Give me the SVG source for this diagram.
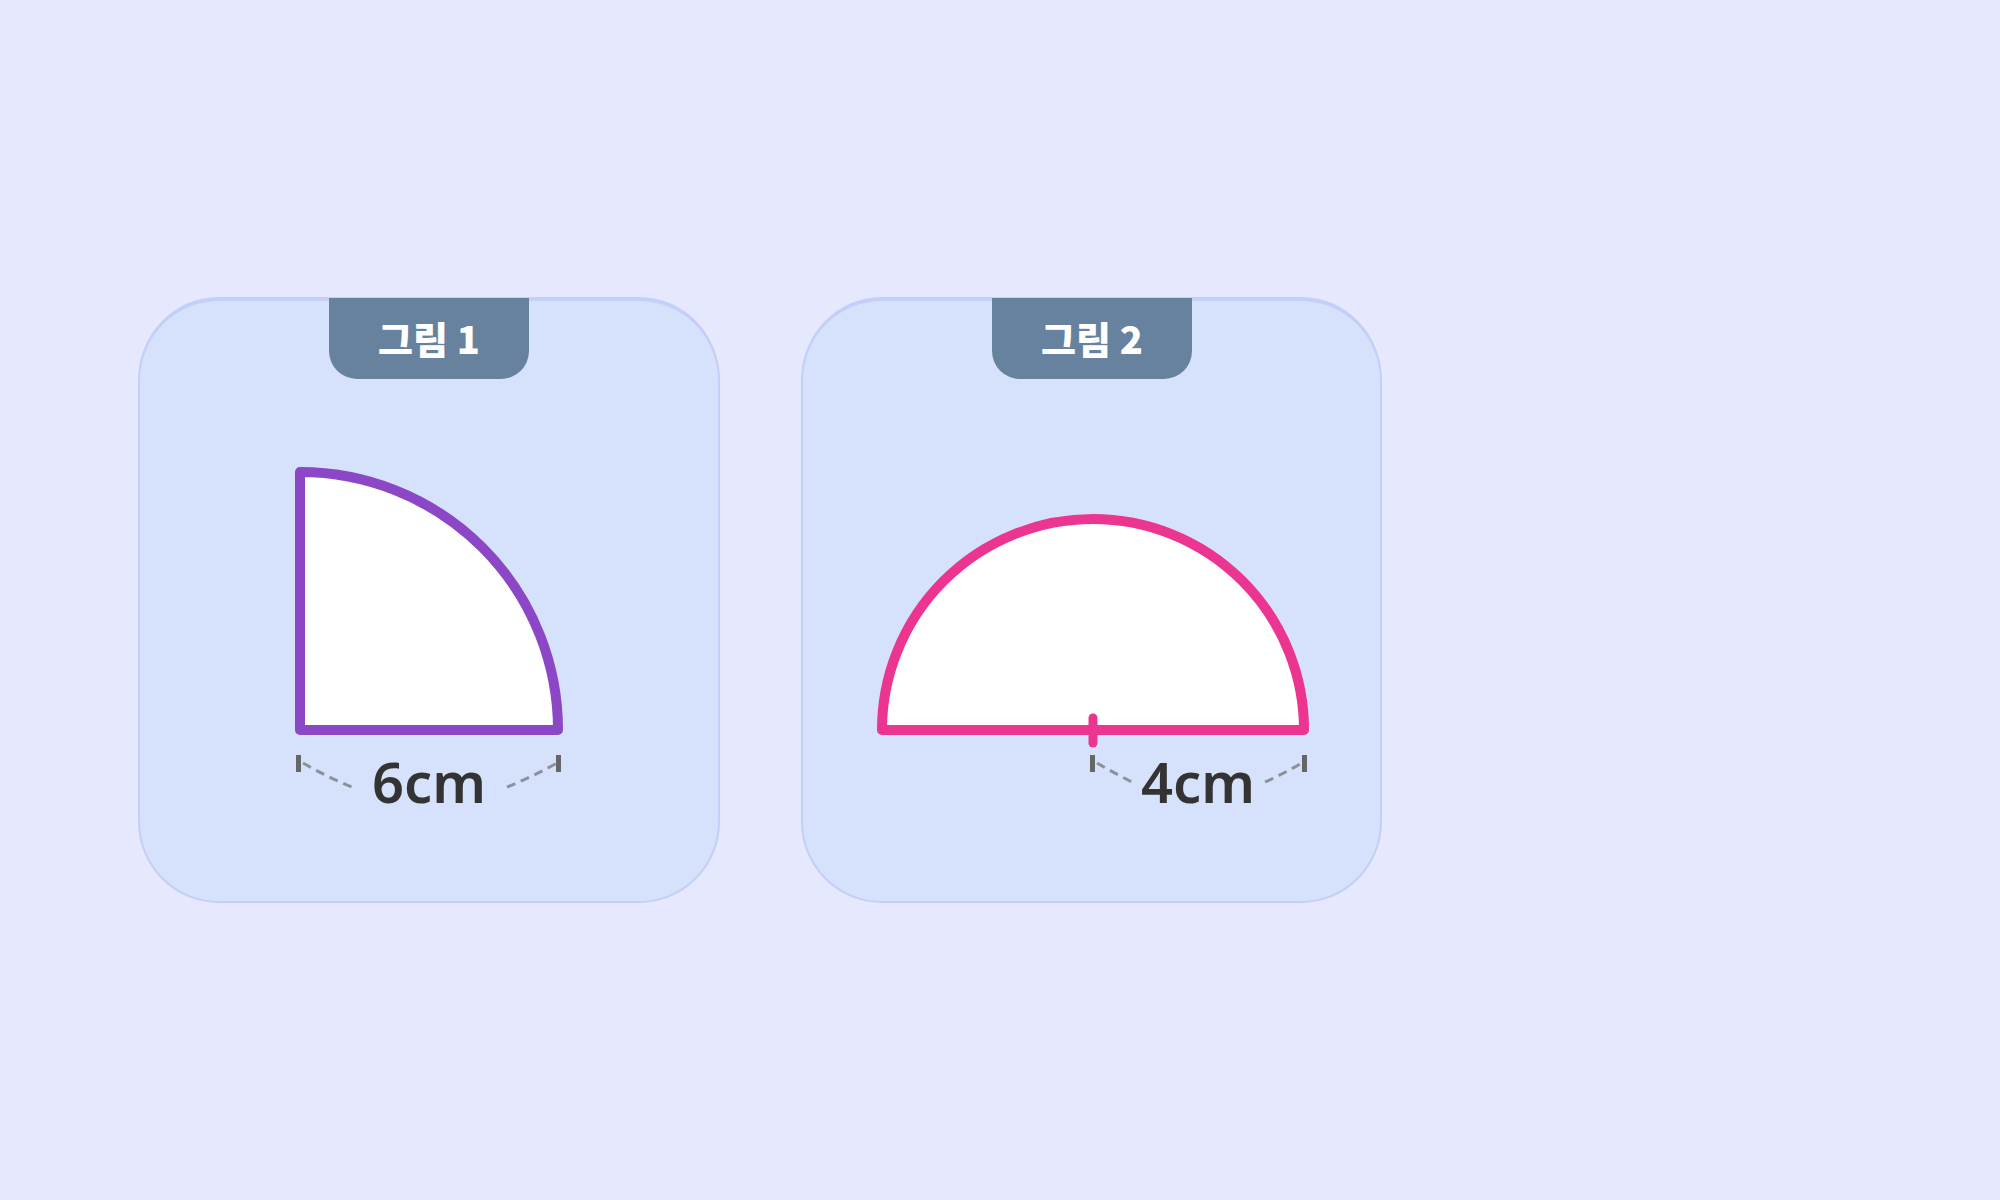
<svg xmlns="http://www.w3.org/2000/svg" width="2000" height="1200" viewBox="0 0 2000 1200">
<style>
.card{fill:#D6E1FB;stroke:#C3CFF7;stroke-width:2}
.cardshadow{fill:#C3CFFA}
.tab{fill:#67829F}
.tabtxt{font-family:"Noto Sans CJK KR","Noto Sans",sans-serif;font-weight:900;font-size:38px;fill:#FFFFFF;text-anchor:middle}
.dim{font-family:"Noto Sans","Open Sans",sans-serif;font-weight:600;font-size:56px;fill:#333333;text-anchor:middle}
.dash{fill:none;stroke:#8B919C;stroke-width:3;stroke-dasharray:9 6}
.tick{fill:#666666}
</style>
<rect width="2000" height="1200" fill="#E6E8FE"/>
<g id="card1">
<rect class="cardshadow" x="139" y="297" width="580" height="605" rx="80"/>
<rect class="card" x="139" y="300" width="580" height="602" rx="80"/>
<path class="tab" d="M329,298 H529 V351 A28,28 0 0 1 501,379 H357 A28,28 0 0 1 329,351 Z"/>
<text class="tabtxt" x="429" y="354">그림 1</text>
<path d="M300,730 L300,472 A258,258 0 0 1 558,730 Z" fill="#FFFFFF" stroke="#8B47C6" stroke-width="10" stroke-linejoin="round"/>
<rect class="tick" x="296" y="755" width="5" height="17"/>
<rect class="tick" x="556" y="755" width="5" height="17"/>
<path class="dash" d="M303,763 Q327,777 352,787"/>
<path class="dash" d="M507,787 Q532,777 557,763"/>
<text class="dim" x="429" y="803">6cm</text>
</g>
<g id="card2">
<rect class="cardshadow" x="802" y="297" width="579" height="605" rx="80"/>
<rect class="card" x="802" y="300" width="579" height="602" rx="80"/>
<path class="tab" d="M992,298 H1192 V351 A28,28 0 0 1 1164,379 H1020 A28,28 0 0 1 992,351 Z"/>
<text class="tabtxt" x="1092" y="354">그림 2</text>
<path d="M882,730 A211,211 0 0 1 1304,730 Z" fill="#FFFFFF" stroke="#EC3590" stroke-width="10" stroke-linejoin="round"/>
<line x1="1093" y1="718" x2="1093" y2="743" stroke="#EC3590" stroke-width="9" stroke-linecap="round"/>
<rect class="tick" x="1090" y="755" width="5" height="17"/>
<rect class="tick" x="1302" y="755" width="5" height="17"/>
<path class="dash" d="M1097,763 Q1114,773 1132,782"/>
<path class="dash" d="M1265,782 Q1283,774 1300,764"/>
<text class="dim" x="1198" y="803">4cm</text>
</g>
<g id="connectors"></g>
</svg>
